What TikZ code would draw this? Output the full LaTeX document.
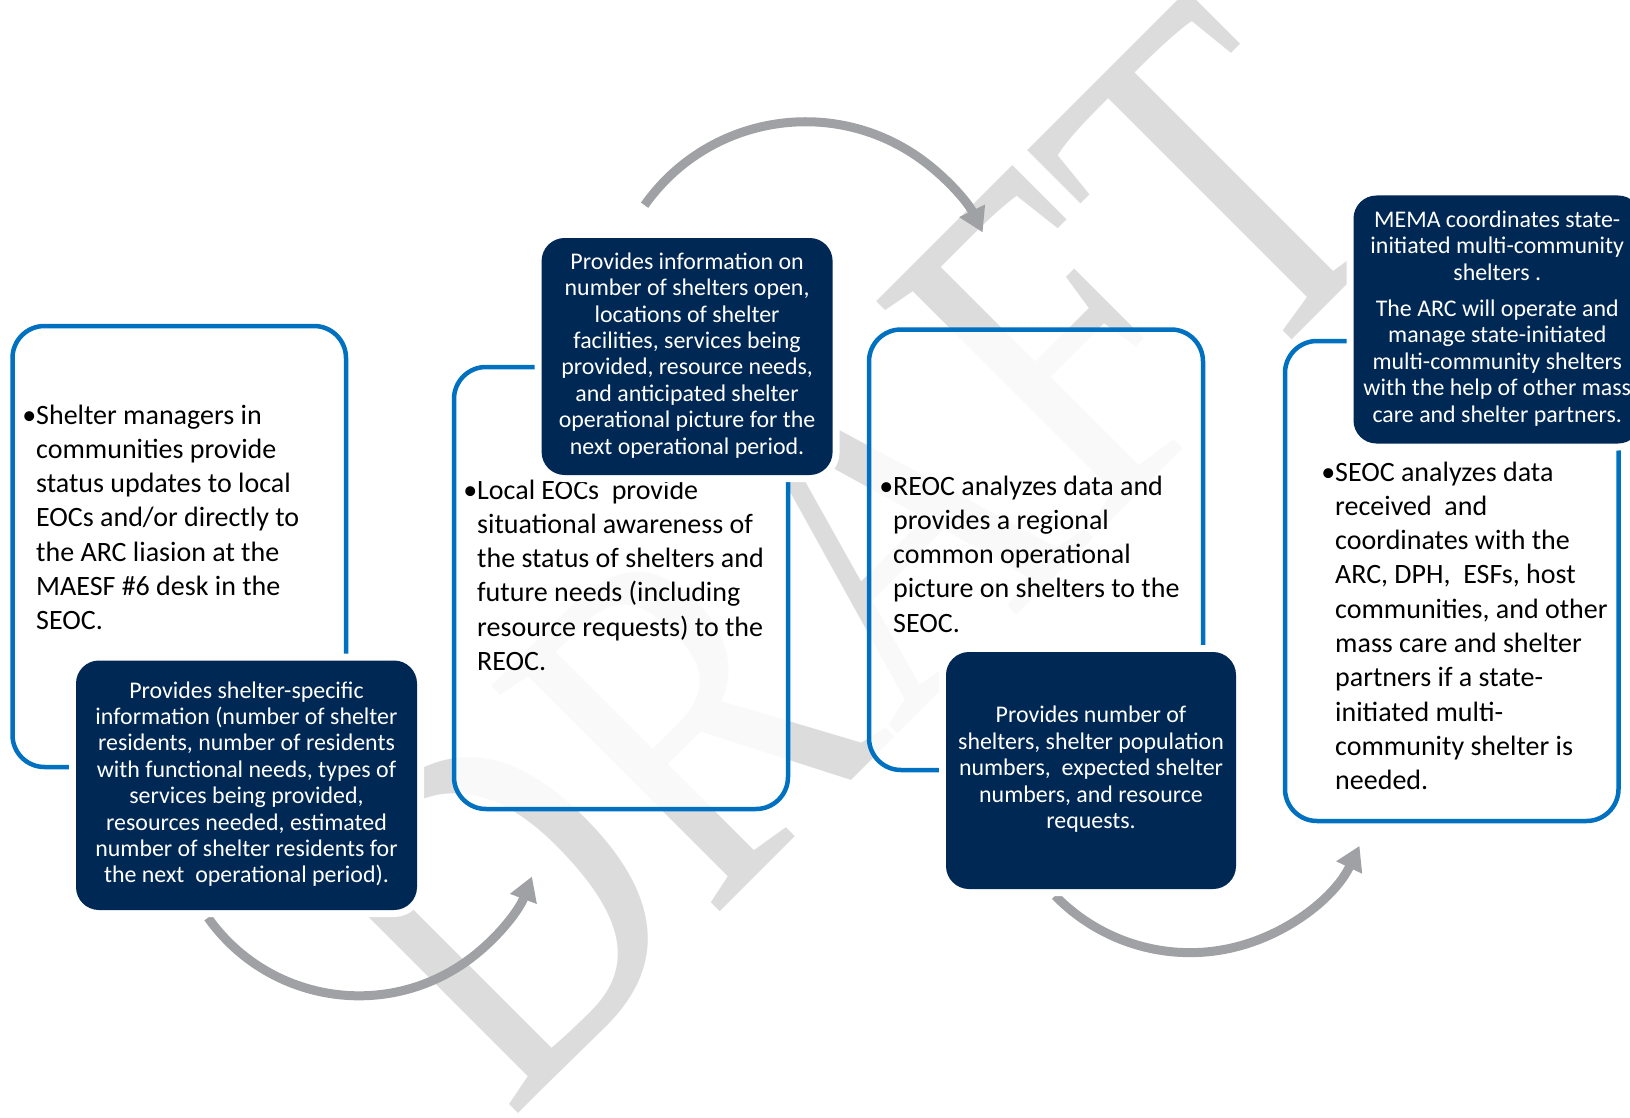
\documentclass[tikz,border=0pt]{standalone}
\usepackage{fontspec}
\setmainfont{Carlito}
\newfontfamily\wmfont{Liberation Serif}
\usetikzlibrary{arrows.meta}
\definecolor{navy}{RGB}{0,40,85}
\definecolor{bblue}{RGB}{0,112,192}
\definecolor{arrgray}{RGB}{160,161,165}
\definecolor{wmgray}{RGB}{220,220,220}
\newcommand{\leftlines}[1]{\begin{tabular}[t]{@{}l@{}}#1\end{tabular}}
\newcommand{\midlines}[1]{\begin{tabular}{@{}c@{}}#1\end{tabular}}
\newcommand{\bul}{\llap{•}}
\begin{document}
\begin{tikzpicture}[x=1pt,y=1pt,
  bluebox/.style={draw=bblue, fill=white, fill opacity=0.85, line width=4.5pt, rounded corners=32pt, inner sep=0pt, shape=rectangle},
  darkbox/.style={fill=navy, rounded corners=23pt, inner sep=0pt, text=white,
     font=\fontsize{23.9}{26.4}\selectfont,
     preaction={draw=white, line width=14pt}},
  bodytext/.style={anchor=base west, inner sep=0pt, text=black, font=\fontsize{28}{34.3}\selectfont},
  arr/.style={draw=arrgray, line width=9pt, -{Triangle[length=24pt,width=27pt]}}]
\useasboundingbox (0,0) rectangle (1630,-1118);
\clip (0,0) rectangle (1630,-1118);
\fill[white] (0,0) rectangle (1630,-1118);
% watermark
\node[rotate=45, anchor=base west, inner sep=0pt, text=wmgray,
      font=\wmfont\fontsize{490}{490}\selectfont] (wm) at (510,-1122) {\scalebox{0.8}[1]{DRAFT}};
% blue boxes
\node[bluebox, minimum width=333.5pt, minimum height=441pt] (b1) at (179.25,-546.5) {};
\node[bluebox, minimum width=334pt, minimum height=442pt] (b2) at (621,-588) {};
\node[bluebox, minimum width=334pt, minimum height=440.5pt] (b3) at (1036,-549.75) {};
\node[bluebox, minimum width=333.5pt, minimum height=480pt] (b4) at (1451.75,-581) {};
% body texts
\node[bodytext] (t1) at (36,-424) {\leftlines{\bul Shelter managers in\\ communities provide\\ status updates to local\\ EOCs and/or directly to\\ the ARC liasion at the\\ MAESF \#6 desk in the\\ SEOC.}};
\node[bodytext] (t2) at (477,-499) {\leftlines{\bul Local EOCs\ \ provide\\ situational awareness of\\ the status of shelters and\\ future needs (including\\ resource requests) to the\\ REOC.}};
\node[bodytext] (t3) at (893,-495) {\leftlines{\bul REOC analyzes data and\\ provides a regional\\ common operational\\ picture on shelters to the\\ SEOC.}};
\node[bodytext] (t4) at (1335,-481) {\leftlines{\bul SEOC analyzes data\\ received\ \ and\\ coordinates with the\\ ARC, DPH,\ \ ESFs, host\\ communities, and other\\ mass care and shelter\\ partners if a state-\\ initiated multi-\\ community shelter is\\ needed.}};
% arrows
\coordinate (a1s) at (208.0,-917.7);
\coordinate (a2s) at (644.6,-205.2);
\coordinate (a3s) at (1055.2,-895.7);
\draw[arr] (a1s) arc[start angle=215.3, end angle=339.2, radius=185];
\draw[arr] (a2s) arc[start angle=144.8, end angle=26.0, radius=197];
\draw[arr] (a3s) arc[start angle=224.2, end angle=334.4, radius=188];
% dark boxes
\node[darkbox, minimum width=341pt, minimum height=249.5pt] (d1) at (246.5,-785.25)
  {\midlines{Provides shelter-specific\\ information (number of shelter\\ residents, number of residents\\ with functional needs, types of\\ services being provided,\\ resources needed, estimated\\ number of shelter residents for\\ the next\ \ operational period).}};
\node[darkbox, minimum width=291pt, minimum height=237pt] (d2) at (687.1,-356.5)
  {\midlines{Provides information on\\ number of shelters open,\\ locations of shelter\\ facilities, services being\\ provided, resource needs,\\ and anticipated shelter\\ operational picture for the\\ next operational period.}};
\node[darkbox, minimum width=290pt, minimum height=237pt] (d3) at (1091,-770.5)
  {\midlines{Provides number of\\ shelters, shelter population\\ numbers,\ \ expected shelter\\ numbers, and resource\\ requests.}};
\node[darkbox, minimum width=287.5pt, minimum height=248pt] (d4) at (1497.25,-319.5)
  {\midlines{MEMA coordinates state-\\ initiated multi-community\\ shelters .\\[10pt] The ARC will operate and\\ manage state-initiated\\ multi-community shelters\\ with the help of other mass\\ care and shelter partners.}};
\end{tikzpicture}
\end{document}
